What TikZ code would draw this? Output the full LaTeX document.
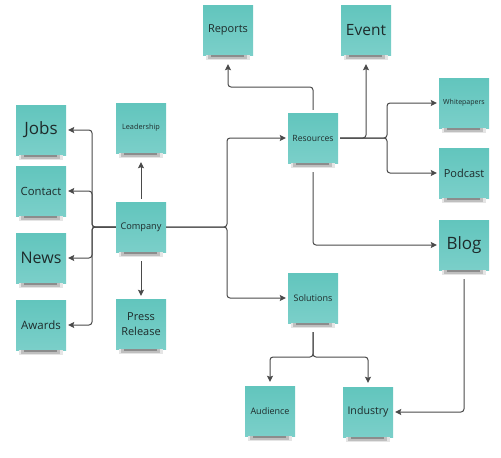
\documentclass[tikz,border=0pt]{standalone}
\usepackage{fontspec}
\setmainfont{Open Sans}
\usepackage{xcolor}
\usetikzlibrary{arrows.meta}
\definecolor{noteTop}{HTML}{62C5BD}
\definecolor{noteBot}{HTML}{7BCFC9}
\definecolor{noteInk}{HTML}{1E2B2B}
\definecolor{lineGray}{HTML}{4A4A4A}

\begin{document}
\begin{tikzpicture}[x=1pt, y=-1pt, >={Stealth[length=6pt,width=6pt,inset=1pt]},
  note/.style={rectangle, minimum size=50pt, inner sep=1pt, align=center, text=noteInk, top color=noteTop, bottom color=noteBot},
  txt/.style={font=\fontsize{#1}{15}\selectfont},
  link/.style={draw=lineGray, line width=1pt, rounded corners=3pt}]
\useasboundingbox (0,0) rectangle (501,458);
\node[note, txt=17] (jobs) at (41,130) {Jobs};
\node[note, txt=11.3] (contact) at (41,191) {Contact};
\node[note, txt=16] (news) at (41,258) {News};
\node[note, txt=11.5] (awards) at (41,325) {Awards};
\node[note, txt=7.3] (leadership) at (141,128) {Leadership};
\node[note, txt=9.2] (company) at (141,227) {Company};
\node[note, txt=11] (press) at (141,324) {Press\\Release};
\node[note, txt=11] (reports) at (228,30) {Reports};
\node[note, txt=15.5] (event) at (366,30) {Event};
\node[note, txt=8.6] (resources) at (313,138) {Resources};
\node[note, txt=7] (whitepapers) at (464,103) {Whitepapers};
\node[note, txt=11] (podcast) at (464,173) {Podcast};
\node[note, txt=17] (blog) at (464,245) {Blog};
\node[note, txt=9] (solutions) at (313,298) {Solutions};
\node[note, txt=9] (audience) at (270,411) {Audience};
\node[note, txt=10.6] (industry) at (368,412) {Industry};
\foreach \n in {jobs,contact,news,awards,leadership,company,press,reports,event,resources,whitepapers,podcast,blog,solutions,audience,industry}{
  \fill[black!10] ([xshift=3pt]\n.south west) rectangle ([xshift=-3pt,yshift=-5pt]\n.south east);
  \fill[black!25] ([xshift=5pt]\n.south west) rectangle ([xshift=-6pt,yshift=-3.5pt]\n.south east);
  \fill[black!45] ([xshift=8pt]\n.south west) rectangle ([xshift=-9pt,yshift=-2pt]\n.south east);
}
\coordinate (lj) at (92,227);
\coordinate (rj) at (227,227);
\coordinate (rp) at (313,87);
\coordinate (ej) at (366,138);
\coordinate (wj) at (387,138);
\coordinate (sj) at (313,357);
\foreach \kid in {jobs,contact,news,awards}
  \draw[link,->,shorten >=2pt] (company.west) -- (lj) |- (\kid.east);
\draw[link,->,shorten <=3pt,shorten >=9pt] (company.north) -- (leadership.south);
\draw[link,->,shorten <=9pt,shorten >=3pt] (company.south) -- (press.north);
\draw[link,->,shorten >=2pt] (company.east) -- (rj) |- (resources.west);
\draw[link,->,shorten >=2pt] (company.east) -- (rj) |- (solutions.west);
\draw[link,->,shorten <=3pt,shorten >=9pt] (resources.north) -- (rp) -| (reports.south);
\draw[link,->,shorten <=2pt,shorten >=9pt] (resources.east) -- (ej) -- (event.south);
\draw[link,->,shorten <=2pt,shorten >=2pt] (resources.east) -- (wj) |- (whitepapers.west);
\draw[link,->,shorten <=2pt,shorten >=2pt] (resources.east) -- (wj) |- (podcast.west);
\draw[link,->,shorten <=9pt,shorten >=2pt] (resources.south) |- (blog.west);
\draw[link,->,shorten <=9pt,shorten >=4pt] (solutions.south) -- (sj) -| (audience.north);
\draw[link,->,shorten <=9pt,shorten >=4pt] (solutions.south) -- (sj) -| (industry.north);
\draw[link,->,shorten <=9pt,shorten >=2pt] (blog.south) |- (industry.east);
\end{tikzpicture}
\end{document}
